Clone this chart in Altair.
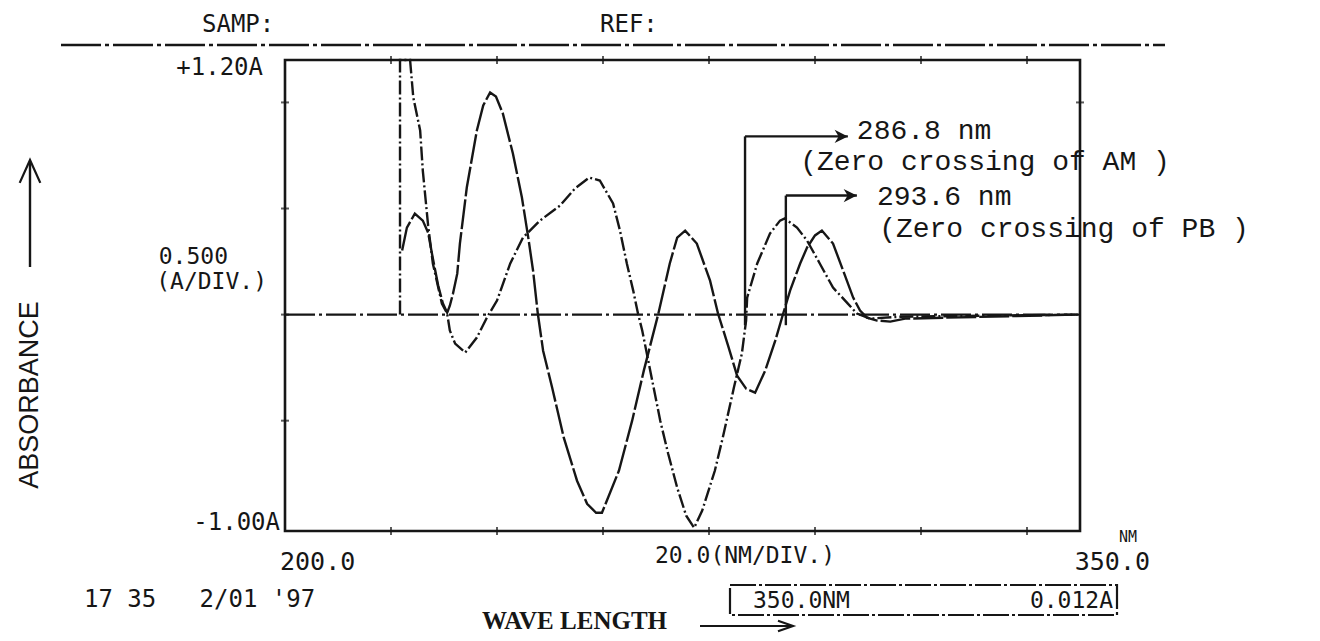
import altair as alt
import pandas as pd

# ---- data ----
# AM curve (wavelength nm, absorbance)
am_wl = [221.7, 221.7, 223.6, 224.2, 225.5, 226.0, 227.0, 227.9, 229.6, 230.6,
         231.1, 232.1, 234.0, 236.2, 238.1, 240.0, 242.5, 244.9, 248.1, 251.9,
         254.7, 257.4, 259.4, 261.9, 263.2, 264.5, 265.7, 266.6, 267.4, 270.8,
         272.3, 274.0, 275.7, 277.2, 278.7, 281.1, 282.6, 284.7, 286.2, 287.0,
         287.2, 289.1, 291.5, 293.4, 294.3, 296.6, 298.5, 300.9, 303.4, 306.2,
         307.9, 310.4, 316.0, 349.6]
am_abs = [0.0, 1.2, 1.2, 1.024, 0.868, 0.679, 0.42, 0.241, 0.052, 0.005,
          -0.075, -0.137, -0.179, -0.108, -0.014, 0.066, 0.241, 0.363, 0.443, 0.514,
          0.594, 0.646, 0.632, 0.524, 0.396, 0.241, 0.113, 0.005, -0.075, -0.5,
          -0.656, -0.816, -0.948, -1.005, -0.925, -0.736, -0.58, -0.344, -0.184, -0.028,
          0.08, 0.241, 0.382, 0.443, 0.453, 0.41, 0.349, 0.241, 0.127, 0.052,
          0.005, -0.019, -0.01, 0.0]

# PB curve (wavelength nm, absorbance)
pb_wl = [222.1, 223.0, 224.5, 226.0, 227.0, 227.9, 228.9, 229.8, 230.6, 231.1,
         231.7, 232.5, 233.0, 234.3, 236.2, 237.4, 238.7, 239.8, 241.1, 243.0,
         244.7, 245.9, 246.8, 247.7, 248.7, 250.4, 252.6, 255.1, 257.0, 258.7,
         259.8, 263.0, 265.5, 267.7, 270.4, 272.6, 274.0, 275.5, 277.7, 280.2,
         281.7, 283.6, 285.3, 287.0, 288.7, 290.6, 292.5, 294.0, 295.3, 297.2,
         298.5, 300.0, 301.3, 303.4, 305.3, 307.2, 308.5, 309.8, 311.7, 314.2,
         317.0, 349.6]
pb_abs = [0.302, 0.41, 0.476, 0.443, 0.387, 0.264, 0.137, 0.052, 0.009, 0.042,
          0.099, 0.193, 0.335, 0.599, 0.868, 0.986, 1.047, 1.028, 0.948, 0.759,
          0.552, 0.363, 0.208, 0.005, -0.17, -0.344, -0.58, -0.783, -0.892, -0.934,
          -0.934, -0.736, -0.5, -0.264, 0.0, 0.241, 0.363, 0.396, 0.335, 0.16,
          0.005, -0.146, -0.288, -0.349, -0.368, -0.264, -0.123, 0.005, 0.113, 0.241,
          0.316, 0.373, 0.396, 0.335, 0.208, 0.08, 0.019, -0.014, -0.028, -0.033,
          -0.019, 0.0]

x_ticks = [220, 240, 260, 280, 300, 320, 340]
y_ticks = [1.0, 0.5, 0.0, -0.5]

# annotation markers: zero-crossing wavelength, arrow height, arrow end
mark_names = ["AM", "PB"]
mark_wl = [286.8, 294.5]
mark_top = [0.84, 0.561]
mark_end = [306.2, 307.9]
mark_bottom = [-0.05, -0.05]

ann_text = ["286.8 nm", "(Zero crossing of AM )", "293.6 nm", "(Zero crossing of PB )"]
ann_wl = [307.9, 297.2, 311.7, 312.1]
ann_abs = [0.865, 0.72, 0.555, 0.405]

W, H = 795, 471
XDOM = [200, 350]
YDOM = [-1.02, 1.2]
xs = alt.Scale(domain=XDOM, nice=False, zero=False)
ys = alt.Scale(domain=YDOM, nice=False, zero=False)

DOT = "DejaVu Sans Mono"
MONO = "Liberation Mono"
INK = "#161616"
NB = "\u00a0"

am = pd.DataFrame({"wl": am_wl, "a": am_abs})
pb = pd.DataFrame({"wl": pb_wl, "a": pb_abs})
marks = pd.DataFrame({"name": mark_names, "wl": mark_wl, "top": mark_top,
                      "end": mark_end, "bot": mark_bottom})
ann = pd.DataFrame({"t": ann_text, "wl": ann_wl, "a": ann_abs})
one = pd.DataFrame({"d": [0]})

X = alt.X("wl:Q", scale=xs, axis=None)
Y = alt.Y("a:Q", scale=ys, axis=None)

am_line = alt.Chart(am).transform_window(i="row_number()").mark_line(
    color=INK, strokeWidth=2.4, strokeDash=[14, 3, 2, 3]).encode(x=X, y=Y, order="i:Q")
pb_line = alt.Chart(pb).transform_window(i="row_number()").mark_line(
    color=INK, strokeWidth=2.4, strokeDash=[30, 3]).encode(x=X, y=Y, order="i:Q")

zero_df = pd.DataFrame({"x0": [XDOM[0]], "x1": [XDOM[1]], "y": [0.0]})
zero_line = alt.Chart(zero_df).mark_rule(color=INK, strokeWidth=2.2,
                                         strokeDash=[30, 4, 3, 4]).encode(
    x=alt.X("x0:Q", scale=xs, axis=None), x2="x1:Q",
    y=alt.Y("y:Q", scale=ys, axis=None))

xt = pd.DataFrame({"wl": x_ticks})
yt = pd.DataFrame({"a": y_ticks})
ticks_bottom = alt.Chart(xt).mark_tick(color=INK, size=8, thickness=2).encode(x=X, y=alt.value(H))
ticks_top = alt.Chart(xt).mark_tick(color=INK, size=8, thickness=2).encode(x=X, y=alt.value(0))
ticks_left = alt.Chart(yt).mark_tick(color=INK, size=8, thickness=2).encode(y=Y, x=alt.value(0))
ticks_right = alt.Chart(yt[yt.a > 0.7]).mark_tick(color=INK, size=8, thickness=2).encode(y=Y, x=alt.value(W))

vrule = alt.Chart(marks).mark_rule(color=INK, strokeWidth=2.4).encode(
    x=alt.X("wl:Q", scale=xs, axis=None), y=alt.Y("bot:Q", scale=ys, axis=None), y2="top:Q")
hrule = alt.Chart(marks).mark_rule(color=INK, strokeWidth=2.4).encode(
    x=alt.X("wl:Q", scale=xs, axis=None), x2="end:Q", y=alt.Y("top:Q", scale=ys, axis=None))
heads = alt.Chart(marks).mark_point(
    shape="M0,0 L-1,-0.5 L-0.7,0 L-1,0.5 Z", filled=True, color=INK, opacity=1, size=700
).encode(x=alt.X("end:Q", scale=xs, axis=None), y=alt.Y("top:Q", scale=ys, axis=None))

ann_layer = alt.Chart(ann).mark_text(font=MONO, fontSize=28, align="left", baseline="middle",
                                     color=INK).encode(
    x=alt.X("wl:Q", scale=xs, axis=None), y=alt.Y("a:Q", scale=ys, axis=None), text="t:N")


def label(text, x, y, size=22, align="left", font=DOT, **kw):
    return alt.Chart(one).mark_text(text=text, font=font, fontSize=size, align=align,
                                    baseline="middle", color=INK, **kw).encode(
        x=alt.value(x), y=alt.value(y))


def rule(x, y, x2=None, y2=None, **kw):
    enc = dict(x=alt.value(x), y=alt.value(y))
    if x2 is not None:
        enc["x2"] = alt.value(x2)
    if y2 is not None:
        enc["y2"] = alt.value(y2)
    return alt.Chart(one).mark_rule(color=INK, **kw).encode(**enc)


def head(x, y, path, size):
    return alt.Chart(one).mark_point(shape=path, filled=False, color=INK, opacity=1,
                                     strokeWidth=2.2, size=size).encode(
        x=alt.value(x), y=alt.value(y))


deco = [
    label("SAMP:", -83, -35, size=24),
    label("REF:", 315, -35, size=24),
    rule(-224, -15, x2=880, strokeWidth=2.5, strokeDash=[40, 4, 4, 4]),
    label("+1.20A", -22, 8, size=24, align="right"),
    label("0.500", -57, 197, size=23, align="right"),
    label("(A/DIV.)", -18, 222, size=23, align="right"),
    label("-1.00A", -5, 463, size=24, align="right"),
    label("200.0", -5, 502, size=25),
    label("20.0(NM/DIV.)", 370, 496, size=23),
    label("350.0", 865, 502, size=25, align="right"),
    label("NM", 834, 477, size=15),
    label("17" + NB + "35" + NB * 3 + "2/01" + NB + "'97", -201, 540, size=24),
    alt.Chart(one).mark_rect(fill=None, stroke=INK, strokeWidth=2.2,
                             strokeDash=[26, 3, 3, 3]).encode(
        x=alt.value(445), x2=alt.value(832), y=alt.value(525), y2=alt.value(555)),
    label("350.0NM", 468, 541, size=23),
    label("0.012A", 828, 541, size=23, align="right"),
    label("WAVE LENGTH", 197, 561, size=25, font="Liberation Serif", fontWeight="bold"),
    rule(415, 566, x2=506, strokeWidth=2.2),
    head(508, 566, "M-1,-0.35 L0,0 L-1,0.35", 900),
    label("ABSORBANCE", -255, 335, size=27, font="Liberation Sans", angle=270, align="center"),
    rule(-255, 207, y2=102, strokeWidth=2.4),
    head(-255, 100, "M-0.45,1 L0,0 L0.45,1", 2100),
]

chart = alt.layer(
    zero_line, am_line, pb_line, ticks_bottom, ticks_top, ticks_left, ticks_right,
    vrule, hrule, heads, ann_layer, *deco
).properties(
    width=W, height=H,
    autosize=alt.AutoSizeParams(type="none"),
    padding={"left": 277, "top": 52, "right": 232, "bottom": 102},
    background="white",
).configure_view(stroke=INK, strokeWidth=2.6)

chart.save("out.html", embed_options={"renderer": "svg", "actions": False})
